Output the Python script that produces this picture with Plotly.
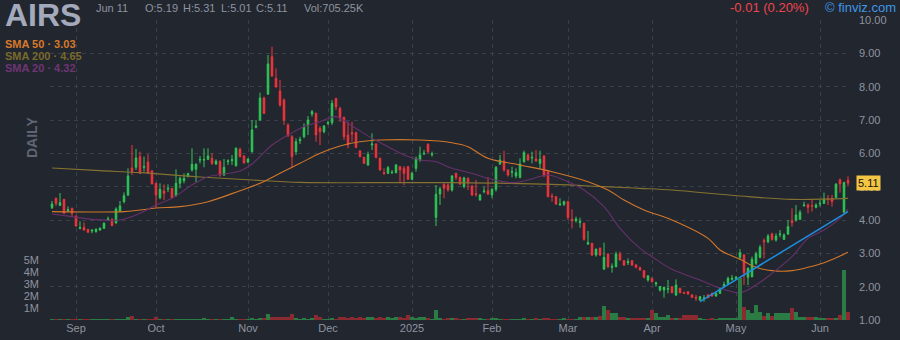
import pandas as pd
import plotly.graph_objects as go

# ---------------- data ----------------
holidays = ["2024-09-02", "2024-11-28", "2024-12-25", "2025-01-01", "2025-01-09",
            "2025-01-20", "2025-02-17", "2025-04-18", "2025-05-26"]

opens = [
    4.37, 4.65, 4.44, 4.62, 4.28, 4.35, 4.12, 3.75, 3.78, 3.72,
    3.67, 3.65, 3.70, 3.75, 4.00, 4.02, 3.92, 4.27, 4.55, 4.75,
    5.56, 5.58, 5.90, 5.58, 5.74, 5.47, 5.10, 4.67, 4.87, 4.93,
    4.95, 4.73, 5.10, 5.18, 5.30, 5.50, 5.52, 5.80, 5.80, 5.82,
    5.85, 5.68, 5.75, 5.35, 5.75, 5.78, 5.63, 6.12, 5.92, 5.74,
    6.05, 6.78, 7.00, 7.66, 7.78, 8.90, 8.25, 7.87, 7.60, 6.85,
    6.50, 6.05, 6.38, 6.50, 6.85, 7.18, 7.20, 6.75, 6.65, 6.90,
    6.92, 7.65, 7.35, 7.08, 6.55, 6.62, 6.62, 6.07, 5.88, 5.65,
    6.25, 6.28, 5.85, 5.42, 5.40, 5.42, 5.42, 5.60, 5.55, 5.60,
    5.22, 5.55, 5.80, 5.98, 6.27, 5.96, 4.08, 4.78, 5.07, 5.05,
    4.90, 5.40, 5.28, 5.00, 5.25, 5.02, 4.79, 4.60, 4.85, 4.88,
    4.75, 4.92, 5.68, 5.77, 5.50, 5.43, 5.32, 5.28, 5.75, 5.95,
    5.86, 5.83, 5.70, 5.92, 5.45, 4.72, 4.70, 4.46, 4.47, 4.55,
    4.02, 3.98, 3.92, 3.90, 3.28, 3.30, 2.95, 3.15, 2.53, 2.98,
    2.58, 2.60, 2.98, 2.78, 2.72, 2.78, 2.65, 2.57, 2.48, 2.20,
    2.25, 2.08, 1.90, 1.90, 1.92, 2.00, 1.75, 1.95, 1.82, 1.85,
    1.75, 1.68, 1.60, 1.64, 1.75, 1.80, 1.72, 1.80, 2.03, 2.10,
    2.22, 2.25, 2.88, 2.95, 2.28, 2.30, 2.70, 2.88, 3.38, 3.35,
    3.58, 3.40, 3.56, 3.42, 3.58, 3.98, 4.00, 4.02, 4.43, 4.45,
    4.43, 4.38, 4.48, 4.50, 4.63, 4.65, 4.68, 5.20, 4.23, 5.19,
]
highs = [
    4.57, 4.67, 4.81, 4.63, 4.41, 4.37, 4.13, 3.96, 3.93, 3.73,
    3.73, 3.75, 3.78, 3.93, 4.10, 4.05, 4.38, 4.57, 4.83, 5.55,
    6.25, 6.13, 6.05, 5.90, 5.97, 5.50, 5.12, 5.10, 5.07, 5.07,
    4.96, 5.52, 5.30, 5.40, 5.42, 6.15, 5.70, 5.92, 6.15, 6.15,
    6.00, 5.82, 5.80, 5.83, 5.82, 5.95, 6.18, 6.17, 5.95, 5.85,
    7.00, 7.00, 7.82, 7.70, 8.95, 9.20, 8.55, 8.20, 7.65, 6.90,
    6.55, 6.45, 6.50, 6.90, 7.12, 7.30, 7.22, 6.82, 6.85, 6.98,
    7.60, 7.65, 7.40, 7.10, 6.95, 6.95, 6.65, 6.10, 5.90, 6.05,
    6.60, 6.30, 5.88, 5.55, 5.62, 5.50, 5.68, 5.62, 5.62, 5.62,
    5.45, 5.90, 6.20, 6.10, 6.30, 6.05, 5.05, 5.00, 5.10, 5.10,
    5.35, 5.42, 5.30, 5.30, 5.28, 5.05, 5.20, 4.78, 5.00, 5.28,
    4.95, 5.62, 5.95, 6.08, 5.52, 5.60, 5.55, 5.85, 6.08, 6.00,
    6.05, 6.10, 6.08, 5.95, 5.48, 4.80, 4.72, 4.65, 4.58, 4.58,
    4.32, 4.10, 4.07, 3.92, 3.67, 3.32, 3.15, 3.18, 3.32, 3.00,
    2.70, 3.05, 3.05, 2.80, 2.85, 2.80, 2.68, 2.60, 2.50, 2.35,
    2.28, 2.15, 2.02, 2.00, 2.20, 2.02, 2.22, 1.97, 1.85, 1.87,
    1.78, 1.75, 1.72, 1.75, 1.78, 1.82, 1.82, 1.97, 2.15, 2.30,
    2.35, 2.32, 3.13, 2.98, 2.58, 2.90, 3.05, 3.25, 3.45, 3.58,
    3.62, 3.60, 3.70, 3.60, 4.00, 4.35, 4.45, 4.30, 4.55, 4.50,
    4.60, 4.50, 4.60, 4.82, 4.75, 4.75, 5.10, 5.25, 5.15, 5.31,
]
lows = [
    4.33, 4.42, 4.42, 4.20, 4.24, 4.10, 3.80, 3.72, 3.68, 3.62,
    3.60, 3.62, 3.68, 3.74, 3.98, 3.83, 3.88, 4.25, 4.50, 4.72,
    5.35, 5.50, 5.38, 5.45, 5.38, 5.08, 4.37, 4.62, 4.60, 4.84,
    4.65, 4.70, 4.95, 5.10, 5.28, 5.45, 5.13, 5.70, 5.58, 5.80,
    5.65, 5.65, 5.30, 5.32, 5.65, 5.65, 5.60, 5.88, 5.70, 5.70,
    6.02, 6.75, 6.98, 7.18, 7.75, 8.30, 7.98, 7.40, 6.85, 6.50,
    5.55, 5.95, 6.28, 6.45, 6.55, 7.10, 6.35, 6.25, 6.60, 6.85,
    6.85, 7.30, 6.95, 6.40, 6.15, 6.35, 6.15, 5.88, 5.68, 5.63,
    6.10, 5.85, 5.48, 5.35, 5.38, 5.38, 5.40, 5.10, 5.05, 5.20,
    5.20, 5.45, 5.75, 5.95, 6.00, 5.90, 3.82, 4.45, 4.65, 4.85,
    4.85, 5.20, 5.05, 4.95, 4.90, 4.72, 4.70, 4.58, 4.80, 4.75,
    4.65, 4.85, 5.65, 5.45, 5.30, 5.28, 5.25, 5.25, 5.72, 5.78,
    5.70, 5.75, 5.53, 5.30, 4.68, 4.55, 4.45, 4.42, 4.42, 4.00,
    3.75, 3.92, 3.77, 3.38, 3.25, 2.92, 2.90, 2.92, 2.50, 2.55,
    2.42, 2.58, 2.78, 2.62, 2.65, 2.62, 2.55, 2.48, 2.25, 2.15,
    2.12, 2.00, 1.85, 1.67, 1.80, 1.80, 1.72, 1.80, 1.78, 1.76,
    1.66, 1.57, 1.58, 1.55, 1.65, 1.70, 1.70, 1.78, 1.98, 2.05,
    2.18, 2.20, 2.80, 2.05, 2.05, 2.28, 2.65, 2.85, 2.85, 3.30,
    3.38, 3.35, 3.48, 3.40, 3.55, 3.80, 3.95, 4.00, 4.40, 4.20,
    4.25, 4.35, 4.40, 4.48, 4.45, 4.40, 4.65, 4.82, 4.20, 5.01,
]
closes = [
    4.48, 4.50, 4.52, 4.20, 4.31, 4.20, 3.82, 3.77, 3.70, 3.63,
    3.69, 3.72, 3.75, 3.90, 4.03, 3.83, 4.33, 4.42, 4.73, 5.32,
    5.45, 5.86, 5.40, 5.60, 5.40, 5.08, 4.75, 4.92, 4.80, 4.95,
    4.67, 5.10, 5.25, 5.25, 5.39, 5.67, 5.67, 5.81, 5.81, 5.92,
    5.70, 5.77, 5.35, 5.58, 5.77, 5.81, 6.15, 5.90, 5.71, 5.83,
    6.70, 6.82, 7.66, 7.20, 8.68, 8.32, 7.99, 7.45, 7.00, 6.52,
    5.90, 6.35, 6.42, 6.78, 7.00, 7.25, 6.55, 6.65, 6.82, 6.92,
    7.50, 7.40, 7.05, 6.50, 6.25, 6.58, 6.18, 5.90, 5.70, 5.97,
    6.28, 5.88, 5.50, 5.40, 5.57, 5.43, 5.65, 5.50, 5.40, 5.22,
    5.40, 5.85, 5.95, 6.00, 6.05, 5.98, 4.77, 4.93, 4.95, 4.90,
    5.32, 5.28, 5.08, 5.26, 5.12, 4.75, 4.77, 4.75, 4.87, 4.78,
    4.92, 5.58, 5.80, 5.50, 5.35, 5.45, 5.42, 5.68, 6.02, 5.80,
    5.88, 5.77, 5.82, 5.32, 4.70, 4.70, 4.48, 4.48, 4.55, 4.08,
    3.98, 4.03, 3.95, 3.42, 3.32, 2.95, 3.12, 2.95, 2.88, 2.60,
    2.61, 2.98, 2.80, 2.65, 2.75, 2.65, 2.58, 2.50, 2.28, 2.32,
    2.15, 2.11, 2.00, 1.98, 1.94, 1.82, 2.05, 1.82, 1.80, 1.78,
    1.68, 1.66, 1.70, 1.66, 1.67, 1.72, 1.80, 1.95, 2.06, 2.25,
    2.25, 2.28, 3.02, 2.42, 2.55, 2.82, 2.98, 3.18, 3.35, 3.52,
    3.42, 3.52, 3.58, 3.55, 3.80, 3.92, 4.15, 4.23, 4.45, 4.38,
    4.42, 4.45, 4.50, 4.62, 4.62, 4.55, 5.08, 5.08, 5.12, 5.11,
]
volumes_m = [
    0.05, 0.04, 0.02, 0.02, 0.02, 0.05, 0.02, 0.02, 0.02, 0.02,
    0.02, 0.02, 0.02, 0.02, 0.02, 0.05, 0.05, 0.05, 0.08, 0.28,
    0.33, 0.08, 0.05, 0.05, 0.05, 0.05, 0.22, 0.05, 0.05, 0.05,
    0.08, 0.05, 0.05, 0.05, 0.08, 0.08, 0.08, 0.05, 0.15, 0.05,
    0.08, 0.05, 0.05, 0.05, 0.05, 0.25, 0.08, 0.08, 0.08, 0.05,
    0.17, 0.05, 0.17, 0.10, 0.50, 0.22, 0.22, 0.22, 0.22, 0.25,
    0.50, 0.15, 0.08, 0.10, 0.08, 0.10, 0.42, 0.25, 0.08, 0.08,
    0.10, 0.08, 0.22, 0.22, 0.17, 0.22, 0.17, 0.22, 0.17, 0.22,
    0.22, 0.17, 0.22, 0.17, 0.22, 0.17, 0.22, 0.22, 0.17, 0.42,
    0.22, 0.17, 0.22, 0.22, 0.10, 0.08, 0.83, 0.17, 0.08, 0.10,
    0.17, 0.10, 0.05, 0.05, 0.10, 0.10, 0.17, 0.10, 0.08, 0.05,
    0.10, 0.10, 0.05, 0.05, 0.08, 0.05, 0.08, 0.05, 0.10, 0.05,
    0.05, 0.10, 0.05, 0.15, 0.10, 0.05, 0.05, 0.05, 0.10, 0.05,
    0.08, 0.05, 0.25, 0.25, 0.28, 0.28, 0.25, 0.33, 1.17, 0.83,
    0.60, 0.60, 0.22, 0.22, 0.11, 0.11, 0.17, 0.11, 0.11, 0.11,
    0.83, 0.56, 0.28, 0.28, 0.42, 0.17, 0.17, 0.17, 0.39, 0.39,
    0.39, 0.39, 0.11, 0.08, 0.08, 0.11, 0.08, 0.11, 0.11, 0.11,
    0.11, 0.11, 3.47, 1.06, 0.83, 0.61, 1.25, 0.69, 0.33, 0.61,
    0.33, 0.55, 0.55, 0.61, 0.61, 1.03, 0.69, 0.28, 0.28, 0.28,
    0.28, 0.28, 0.19, 0.19, 0.19, 0.17, 0.17, 0.39, 4.17, 0.705,
]

# moving averages (bar index, value)
sma50_idx = [0, 10, 18, 22, 26, 32, 39, 47, 52, 57, 62, 67, 72, 77, 82, 92, 100, 104,
             109, 117, 125, 134, 139, 143, 148, 155, 164, 167, 172, 176, 180, 185,
             189, 193, 197, 199]
sma50_val = [4.25, 4.24, 4.25, 4.30, 4.36, 4.40, 4.55, 4.88, 5.10, 5.40, 5.70, 6.00,
             6.22, 6.35, 6.40, 6.40, 6.32, 6.20, 5.85, 5.65, 5.45, 5.15, 4.90, 4.60,
             4.30, 4.00, 3.45, 3.10, 2.82, 2.58, 2.48, 2.48, 2.58, 2.72, 2.92, 3.03]
sma200_idx = [0, 12, 22, 37, 50, 62, 80, 100, 125, 138, 147, 155, 172, 185, 199]
sma200_val = [5.56, 5.48, 5.42, 5.29, 5.20, 5.13, 5.12, 5.12, 5.07, 5.00, 4.95, 4.90,
              4.72, 4.62, 4.65]
sma20_idx = [0, 5, 10, 17, 22, 26, 30, 35, 39, 43, 47, 50, 55, 59, 63, 67, 71, 75, 80,
             84, 88, 92, 96, 100, 105, 109, 115, 119, 124, 128, 133, 138, 142, 147,
             150, 155, 162, 166, 172, 176, 180, 185, 189, 193, 197, 199]
sma20_val = [4.18, 4.10, 4.02, 4.00, 4.20, 4.45, 4.65, 5.05, 5.30, 5.38, 5.47, 5.68,
             6.25, 6.55, 6.80, 6.95, 7.10, 6.82, 6.45, 6.20, 5.95, 5.80, 5.75, 5.55,
             5.40, 5.25, 5.12, 5.20, 5.35, 5.20, 4.90, 4.40, 3.75, 3.15, 2.90, 2.52,
             2.20, 2.00, 1.82, 2.05, 2.40, 2.90, 3.45, 3.70, 4.05, 4.32]
trend_idx = [162, 199]
trend_val = [1.55, 4.25]

price_ticks = [1, 2, 3, 4, 5, 6, 7, 8, 9, 10]
vol_ticks_m = [1, 2, 3, 4, 5]
vol_tick_text = ["1M", "2M", "3M", "4M", "5M"]

# ---------------- build ----------------
days = pd.bdate_range("2024-08-23", "2025-06-11")
days = days[~days.isin(pd.to_datetime(holidays))]
xs = list(range(len(days)))

tick_idx, tick_txt = [], []
for i, d in enumerate(days):
    if i > 0 and d.month != days[i - 1].month:
        tick_idx.append(i)
        tick_txt.append(str(d.year) if d.month == 1 else d.strftime("%b"))

GREEN, RED = "#2fc857", "#f2353c"
VGREEN, VRED = "#2a7c44", "#8b2b31"
BG = "#22262f"
GRID = "#3a3f4a"
TXT = "#8e949f"
FONT = "Liberation Sans, Arial, sans-serif"

vcolors = [VGREEN if c >= o else VRED for o, c in zip(opens, closes)]

fig = go.Figure()
fig.add_trace(go.Bar(x=xs, y=[v * 1e6 for v in volumes_m], marker_color=vcolors,
                     marker_line_width=0, width=1.0, yaxis="y2", showlegend=False))
fig.add_trace(go.Scatter(x=sma200_idx, y=sma200_val, mode="lines", line_shape="spline",
                         line=dict(color="#857232", width=1.1), showlegend=False))
fig.add_trace(go.Scatter(x=sma50_idx, y=sma50_val, mode="lines", line_shape="spline",
                         line=dict(color="#d0772b", width=1.1), showlegend=False))
fig.add_trace(go.Scatter(x=sma20_idx, y=sma20_val, mode="lines", line_shape="spline",
                         line=dict(color="#66316b", width=1.1), showlegend=False))
fig.add_trace(go.Candlestick(
    x=xs, open=opens, high=highs, low=lows, close=closes,
    increasing=dict(line=dict(color=GREEN, width=1), fillcolor=GREEN),
    decreasing=dict(line=dict(color=RED, width=1), fillcolor=RED),
    whiskerwidth=0, showlegend=False, yaxis="y"))
fig.add_trace(go.Scatter(x=trend_idx, y=trend_val, mode="lines",
                         line=dict(color="#1e8fe0", width=1.5), showlegend=False))

W, H = 900, 340
L, R, T, B = 50, 50, 20, 20


def px(x):
    return (x - L) / (W - L - R)


def py(y):
    return (H - B - y) / (H - T - B)


ann = []


def text(x, y, s, color, size, bold=False, anchor="left", angle=0):
    ann.append(dict(x=px(x), y=py(y), xref="paper", yref="paper", text=f"<b>{s}</b>" if bold else s,
                    showarrow=False, xanchor=anchor, yanchor="middle", textangle=angle,
                    font=dict(family=FONT, size=size, color=color), borderpad=0))


text(4, 15, "AIRS", "#a2aabb", 32, bold=True)
text(95, 8, "Jun 11", TXT, 11)
text(144, 8, "O:5.19", TXT, 11)
text(182, 8, "H:5.31", TXT, 11)
text(220, 8, "L:5.01", TXT, 11)
text(255, 8, "C:5.11", TXT, 11)
text(303, 8, "Vol:705.25K", TXT, 11)
text(810, 8, "-0.01 (0.20%)", "#f0454c", 13, anchor="right")
text(897, 7, "© finviz.com", "#3f97e6", 13, anchor="right")
text(4, 44, "SMA 50 · 3.03", "#d8792a", 11, bold=True)
text(4, 56, "SMA 200 · 4.65", "#7a6a2c", 11, bold=True)
text(4, 68, "SMA 20 · 4.32", "#6e3573", 11, bold=True)
text(32, 138, "DAILY", "#5f6573", 14, bold=True, anchor="center", angle=-90)

ann.append(dict(x=1, y=5.11, xref="paper", yref="y", text="5.11", showarrow=False,
                xanchor="left", yanchor="middle", xshift=6, bgcolor="#f4c542",
                font=dict(family=FONT, size=11, color="#111111"), borderpad=1))

fig.update_layout(
    width=W, height=H, margin=dict(l=L, r=R, t=T, b=B, autoexpand=False),
    paper_bgcolor=BG, plot_bgcolor=BG, boxgap=0.45,
    font=dict(family=FONT, size=11, color=TXT),
    annotations=ann, showlegend=False, bargap=0,
    xaxis=dict(range=[-0.5, len(xs) - 0.5], tickvals=tick_idx, ticktext=tick_txt,
               showgrid=True, gridcolor=GRID, griddash="4px,4px", gridwidth=1,
               zeroline=False, showline=False, rangeslider=dict(visible=False),
               tickfont=dict(size=11, color=TXT), ticks="", automargin=False),
    yaxis=dict(range=[1, 10], side="right", tickvals=price_ticks,
               ticktext=[f"{v:.2f}" for v in price_ticks], showgrid=True,
               gridcolor=GRID, griddash="4px,4px", zeroline=False, showline=False,
               tickfont=dict(size=11, color=TXT), ticklabelstandoff=8, automargin=False),
    yaxis2=dict(range=[0, 25e6], overlaying="y", side="left",
                tickvals=[v * 1e6 for v in vol_ticks_m], ticktext=vol_tick_text,
                showgrid=False, zeroline=False, showline=False,
                tickfont=dict(size=11, color=TXT), ticklabelstandoff=10, automargin=False),
)

fig.write_html("out.html")
